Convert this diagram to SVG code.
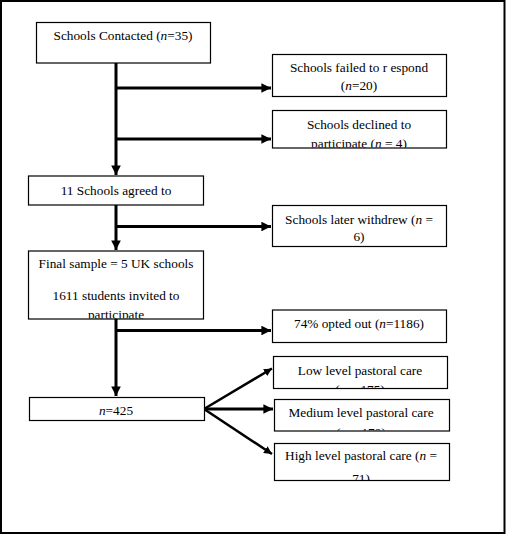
<svg xmlns="http://www.w3.org/2000/svg" width="506" height="536" viewBox="0 0 506 536">
<style>
.box{fill:#fff;stroke:#000;stroke-width:1.2}
.t{font-family:"Liberation Serif","Times New Roman",serif;font-size:13.3px;fill:#000;text-anchor:middle}
.c{stroke:#000;stroke-width:3;fill:none}
.d{stroke:#000;stroke-width:2.5;fill:none}
</style>
<defs>
<marker id="ah" viewBox="0 0 10 10" refX="10" refY="5" markerWidth="3.2" markerHeight="3.2" orient="auto" markerUnits="strokeWidth">
<path d="M0,0 L10,5 L0,10 z" fill="#000"/>
</marker>
<clipPath id="c3"><rect x="272" y="110" width="175" height="37.5"/></clipPath>
<clipPath id="c5"><rect x="28" y="251" width="176" height="67.5"/></clipPath>
<clipPath id="cL"><rect x="273" y="356" width="175" height="32"/></clipPath>
<clipPath id="cM"><rect x="274" y="399" width="176" height="31.5"/></clipPath>
<clipPath id="cH"><rect x="274" y="443" width="176" height="37"/></clipPath>
</defs>
<rect x="1" y="1" width="503.5" height="532" fill="#fff" stroke="#000" stroke-width="2"/>
<g id="connectors">
<path class="c" d="M116,63 V175" marker-end="url(#ah)"/>
<path class="c" d="M116,88 H271" marker-end="url(#ah)"/>
<path class="c" d="M116,139 H271" marker-end="url(#ah)"/>
<path class="c" d="M116,205 V250" marker-end="url(#ah)"/>
<path class="c" d="M116,226.5 H271" marker-end="url(#ah)"/>
<path class="c" d="M116,319 V396" marker-end="url(#ah)"/>
<path class="c" d="M116,330.5 H271" marker-end="url(#ah)"/>
<path class="d" d="M204,409 L272,368.5" marker-end="url(#ah)"/>
<path class="c" d="M204,409 H273" marker-end="url(#ah)"/>
<path class="d" d="M204,409 L272,454" marker-end="url(#ah)"/>
</g>
<g id="n1"><rect class="box" x="36.5" y="22.5" width="174" height="40.5"/>
<text class="t" x="123" y="39.5">Schools Contacted (<tspan font-style="italic">n</tspan>=35)</text></g>
<g id="n2"><rect class="box" x="272.5" y="54.5" width="174" height="42"/>
<text class="t" x="359" y="71.5">Schools failed to r espond</text>
<text class="t" x="359" y="90">(<tspan font-style="italic">n</tspan>=20)</text></g>
<g id="n3"><rect class="box" x="272.5" y="110.5" width="174" height="37.5"/>
<g clip-path="url(#c3)"><text class="t" x="359" y="128.5">Schools declined to</text>
<text class="t" x="359" y="147.5">participate (<tspan font-style="italic">n</tspan> = 4)</text></g></g>
<g id="n4"><rect class="box" x="28.5" y="176" width="175" height="29"/>
<text class="t" x="116" y="194.5">11 Schools agreed to</text></g>
<g id="n6"><rect class="box" x="272.5" y="205.5" width="174" height="41"/>
<text class="t" x="359" y="223.5">Schools later withdrew (<tspan font-style="italic">n</tspan> =</text>
<text class="t" x="359" y="241">6)</text></g>
<g id="n5"><rect class="box" x="28.5" y="251" width="175" height="68"/>
<g clip-path="url(#c5)"><text class="t" x="116" y="268">Final sample = 5 UK schools</text>
<text class="t" x="116" y="300">1611 students invited to</text>
<text class="t" x="116" y="319">participate</text></g></g>
<g id="n7"><rect class="box" x="272.5" y="310" width="174" height="32.5"/>
<text class="t" x="359" y="327.5">74% opted out (<tspan font-style="italic">n</tspan>=1186)</text></g>
<g id="n8"><rect class="box" x="29.5" y="397.5" width="175" height="23"/>
<text class="t" x="116" y="415"><tspan font-style="italic">n</tspan>=425</text></g>
<g id="n9"><rect class="box" x="273.5" y="356.5" width="174" height="32"/>
<g clip-path="url(#cL)"><text class="t" x="360" y="375">Low level pastoral care</text>
<text class="t" x="360" y="394">(<tspan font-style="italic">n</tspan> = 175)</text></g></g>
<g id="n10"><rect class="box" x="274.5" y="399.5" width="175" height="31.5"/>
<g clip-path="url(#cM)"><text class="t" x="361" y="417">Medium level pastoral care</text>
<text class="t" x="361" y="436.5">(<tspan font-style="italic">n</tspan> = 179)</text></g></g>
<g id="n11"><rect class="box" x="274.5" y="443.5" width="175" height="37"/>
<g clip-path="url(#cH)"><text class="t" x="361" y="460">High level pastoral care (<tspan font-style="italic">n</tspan> =</text>
<text class="t" x="361" y="482.5">71)</text></g></g>
</svg>
